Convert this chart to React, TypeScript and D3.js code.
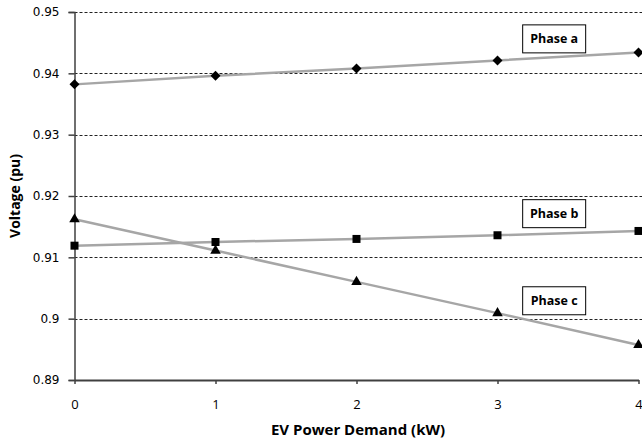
import React, { useRef, useEffect } from 'react';
import * as d3 from 'd3';

const demand = [0, 1, 2, 3, 4];
const phaseA = [0.9382, 0.9396, 0.9408, 0.9421, 0.9434];
const phaseB = [0.9119, 0.9125, 0.9130, 0.9136, 0.9143];
const phaseC = [0.9162, 0.9111, 0.9060, 0.9009, 0.8957];
const yTicks = [0.89, 0.9, 0.91, 0.92, 0.93, 0.94, 0.95];
const xTicks = [0, 1, 2, 3, 4];

const series = [
    { name: 'Phase a', values: phaseA, symbol: d3.symbolSquare, size: 50, rotate: 45, labelY: 0.9457 },
    { name: 'Phase b', values: phaseB, symbol: d3.symbolSquare, size: 64, rotate: 0, labelY: 0.9172 },
    { name: 'Phase c', values: phaseC, symbol: d3.symbolTriangle, size: 48, rotate: 0, labelY: 0.9030 },
];

const App: React.FC = () => {
    const svgRef = useRef<SVGSVGElement | null>(null);
    const width = 642;
    const height = 442;

    useEffect(() => {
        if (!svgRef.current) return;
        const svg = d3.select(svgRef.current);
        svg.selectAll('*').remove();

        const x = d3.scaleLinear().domain([0, 4]).range([74.5, 638.5]);
        const y = d3.scaleLinear().domain([0.89, 0.95]).range([380, 12]);

        // dashed gridlines
        svg.append('g')
            .selectAll('line')
            .data(yTicks.slice(1))
            .enter().append('line')
            .attr('x1', x(0))
            .attr('x2', width)
            .attr('y1', d => Math.round(y(d)) + 0.5)
            .attr('y2', d => Math.round(y(d)) + 0.5)
            .attr('stroke', '#222')
            .attr('stroke-width', 1)
            .attr('stroke-dasharray', '3,2');

        // y axis
        const yAxis = svg.append('g')
            .attr('transform', `translate(${x(0)},0)`)
            .call(d3.axisLeft(y).tickValues(yTicks).tickSize(6).tickPadding(9).tickFormat(d => d3.format('')(+(+d).toFixed(2))));
        yAxis.select('.domain').attr('stroke', '#404040').attr('stroke-width', 1.5);
        yAxis.selectAll('.tick line').attr('stroke', '#404040').attr('stroke-width', 1.5);
        yAxis.selectAll('text')
            .attr('font-family', 'DejaVu Sans, Verdana, sans-serif')
            .attr('font-size', 12)
            .attr('fill', '#000');

        // x axis
        const xAxis = svg.append('g')
            .attr('transform', `translate(0,${y(0.89)})`)
            .call(d3.axisBottom(x).tickValues(xTicks).tickSize(4).tickPadding(16).tickSizeOuter(0).tickFormat(d3.format('d')));
        xAxis.select('.domain').attr('stroke', '#404040').attr('stroke-width', 2);
        xAxis.selectAll('.tick line').attr('stroke', '#404040').attr('stroke-width', 1.5);
        xAxis.selectAll('text')
            .attr('font-family', 'Open Sans, sans-serif')
            .attr('font-size', 13)
            .attr('fill', '#000');

        // lines
        const line = d3.line<number>()
            .x((_, i) => x(demand[i]))
            .y(d => y(d));

        series.forEach(s => {
            svg.append('path')
                .datum(s.values)
                .attr('d', line)
                .attr('fill', 'none')
                .attr('stroke', '#a6a6a6')
                .attr('stroke-width', 2.5);
        });

        // markers
        series.forEach(s => {
            svg.append('g')
                .selectAll('path')
                .data(s.values)
                .enter().append('path')
                .attr('transform', (d, i) => `translate(${x(demand[i])},${y(d)}) rotate(${s.rotate})`)
                .attr('d', d3.symbol().type(s.symbol).size(s.size)())
                .attr('fill', '#000');
        });

        // phase labels
        series.forEach(s => {
            const g = svg.append('g')
                .attr('transform', `translate(${x(3.175)},${y(s.labelY)})`);
            g.append('rect')
                .attr('x', 0.5)
                .attr('y', -13.5)
                .attr('width', 63)
                .attr('height', 28)
                .attr('fill', '#fff')
                .attr('stroke', '#000')
                .attr('stroke-width', 1);
            g.append('text')
                .attr('x', 32)
                .attr('y', 5)
                .attr('text-anchor', 'middle')
                .attr('font-family', 'Open Sans, sans-serif')
                .attr('font-weight', 'bold')
                .attr('font-size', 12.5)
                .text(s.name);
        });

        // axis titles
        svg.append('text')
            .attr('x', 358)
            .attr('y', 435)
            .attr('text-anchor', 'middle')
            .attr('font-family', 'Open Sans, sans-serif')
            .attr('font-weight', 'bold')
            .attr('font-size', 15)
            .text('EV Power Demand (kW)');

        svg.append('text')
            .attr('transform', 'translate(20,196) rotate(-90)')
            .attr('text-anchor', 'middle')
            .attr('font-family', 'Open Sans, sans-serif')
            .attr('font-weight', 'bold')
            .attr('font-size', 14)
            .text('Voltage (pu)');
    }, []);

    return (
        <svg
            ref={svgRef}
            width={width}
            height={height}
            style={{ position: 'absolute', left: 0, top: 0, background: '#fff' }}
        ></svg>
    );
};

export default App;
